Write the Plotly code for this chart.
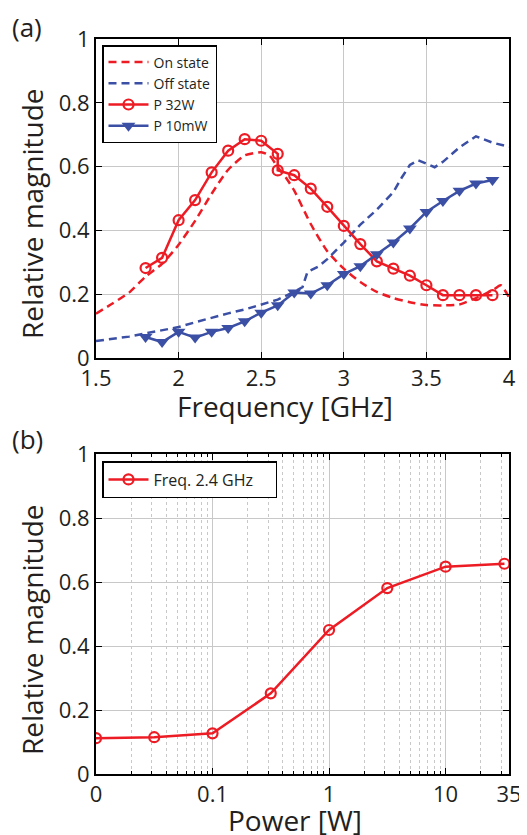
import plotly.graph_objects as go

# ---------------- Panel (a) data ----------------
on_freq = [1.5, 1.6, 1.7, 1.8, 1.9, 2.0, 2.1, 2.2, 2.3, 2.4, 2.5, 2.55, 2.6, 2.65, 2.7,
           2.8, 2.9, 3.0, 3.1, 3.2, 3.3, 3.4, 3.5, 3.6, 3.7, 3.8, 3.9, 3.95, 4.0]
on_mag = [0.139, 0.171, 0.205, 0.255, 0.295, 0.355, 0.43, 0.515, 0.59, 0.635, 0.645, 0.635,
          0.598, 0.565, 0.525, 0.42, 0.335, 0.28, 0.238, 0.207, 0.188, 0.175, 0.166, 0.165,
          0.168, 0.188, 0.212, 0.228, 0.19]

off_freq = [1.5, 1.6, 1.7, 1.8, 1.9, 2.0, 2.1, 2.2, 2.3, 2.4, 2.5, 2.6, 2.7, 2.75, 2.78,
            2.85, 2.9, 2.95, 3.0, 3.05, 3.1, 3.2, 3.3, 3.35, 3.4, 3.45, 3.5, 3.55, 3.6,
            3.7, 3.8, 3.9, 4.0]
off_mag = [0.053, 0.059, 0.067, 0.077, 0.087, 0.097, 0.112, 0.127, 0.14, 0.152, 0.167, 0.183,
           0.208, 0.222, 0.27, 0.288, 0.31, 0.335, 0.362, 0.39, 0.418, 0.465, 0.52, 0.565,
           0.605, 0.62, 0.61, 0.598, 0.615, 0.66, 0.695, 0.675, 0.662]

p32_freq = [1.8, 1.9, 2.0, 2.1, 2.2, 2.3, 2.4, 2.5, 2.6, 2.6, 2.7, 2.8, 2.9, 3.0, 3.1, 3.2,
            3.3, 3.4, 3.5, 3.6, 3.7, 3.8, 3.9]
p32_mag = [0.282, 0.314, 0.432, 0.495, 0.582, 0.650, 0.686, 0.681, 0.640, 0.588, 0.573, 0.531,
           0.474, 0.414, 0.357, 0.303, 0.280, 0.258, 0.228, 0.197, 0.197, 0.197, 0.197]

p10_freq = [1.8, 1.9, 2.0, 2.1, 2.2, 2.3, 2.4, 2.5, 2.6, 2.7, 2.8, 2.9, 3.0, 3.1, 3.2, 3.3,
            3.4, 3.5, 3.6, 3.7, 3.8, 3.9]
p10_mag = [0.066, 0.050, 0.082, 0.064, 0.082, 0.094, 0.115, 0.142, 0.165, 0.205, 0.202, 0.228,
           0.263, 0.288, 0.325, 0.362, 0.406, 0.458, 0.492, 0.524, 0.547, 0.558]

# ---------------- Panel (b) data ----------------
# first point is P = 0, drawn at the left edge of the log axis (0.01 W, labelled "0")
power_w = [0.01, 0.0316, 0.1, 0.316, 1, 3.16, 10, 32]
power_mag = [0.112, 0.115, 0.127, 0.252, 0.450, 0.581, 0.648, 0.657]

freq_ticks = [1.5, 2, 2.5, 3, 3.5, 4]
freq_ticktext = ["1.5", "2", "2.5", "3", "3.5", "4"]
power_ticks = [0.01, 0.1, 1, 10, 35]
power_ticktext = ["0", "0.1", "1", "10", "35"]
power_minor = [0.02, 0.03, 0.04, 0.05, 0.06, 0.07, 0.08, 0.09,
               0.2, 0.3, 0.4, 0.5, 0.6, 0.7, 0.8, 0.9,
               2, 3, 4, 5, 6, 7, 8, 9, 20, 30]
mag_ticks = [0, 0.2, 0.4, 0.6, 0.8, 1]
mag_ticktext = ["0", "0.2", "0.4", "0.6", "0.8", "1"]

RED = "#ED1C24"
BLUE = "#3B4FA5"
FONT = "Open Sans"
TXT = "#231F20"

fig = go.Figure()

fig.add_trace(go.Scatter(x=on_freq, y=on_mag, mode="lines", name="On state",
                         line=dict(color=RED, width=2.5, dash="8px,5px", shape="spline", smoothing=0.6),
                         xaxis="x", yaxis="y", legend="legend"))
fig.add_trace(go.Scatter(x=off_freq, y=off_mag, mode="lines", name="Off state",
                         line=dict(color=BLUE, width=2.5, dash="8px,5px"),
                         xaxis="x", yaxis="y", legend="legend"))
fig.add_trace(go.Scatter(x=p32_freq, y=p32_mag, mode="lines+markers", name="P 32W",
                         line=dict(color=RED, width=2.5),
                         marker=dict(symbol="circle-open", size=10, color=RED, line=dict(width=2.2)),
                         xaxis="x", yaxis="y", legend="legend"))
fig.add_trace(go.Scatter(x=p10_freq, y=p10_mag, mode="lines+markers", name="P 10mW",
                         line=dict(color=BLUE, width=2.5),
                         marker=dict(symbol="triangle-down", size=12, color=BLUE),
                         xaxis="x", yaxis="y", legend="legend"))

fig.add_trace(go.Scatter(x=power_w, y=power_mag, mode="lines+markers",
                         name="Freq. 2.4 GHz\u00a0\u00a0\u00a0\u00a0",
                         line=dict(color=RED, width=2.5),
                         marker=dict(symbol="circle-open", size=10, color=RED, line=dict(width=2.2)),
                         xaxis="x2", yaxis="y2", legend="legend2"))

# page body has an 8px margin: the figure is drawn 8px in from the top-left
OFF = 8
W, H = 527 - OFF, 835 - OFF


def px_x(v):
    return (v - OFF) / W


def px_y(v):
    return 1 - (v - OFF) / H


xd = [px_x(96), px_x(509)]
ya = [px_y(358), px_y(39)]
yb = [px_y(774), px_y(454)]

axis_common = dict(showline=True, linecolor="black", linewidth=2, mirror="ticks",
                   ticks="inside", ticklen=6, tickwidth=1.2, tickcolor="black",
                   showgrid=True, gridcolor="#C8C8C8", gridwidth=1, zeroline=False,
                   tickfont=dict(family=FONT, size=22, color=TXT), automargin=False)

TITLE_FONT = dict(family=FONT, size=28, color=TXT)


def title_ann(text, x, y, angle=0):
    return dict(text=text, x=px_x(x), y=px_y(y), xref="paper", yref="paper",
                xanchor="center", yanchor="middle", textangle=angle, showarrow=False,
                font=TITLE_FONT)


fig.update_layout(
    width=W, height=H,
    margin=dict(l=0, r=0, t=0, b=0),
    paper_bgcolor="white", plot_bgcolor="white",
    font=dict(family=FONT, color=TXT),
    showlegend=True,
    xaxis=dict(domain=xd, anchor="y", range=[1.5, 4], tickvals=freq_ticks, ticktext=freq_ticktext,
               **axis_common),
    yaxis=dict(domain=ya, anchor="x", range=[0, 1], tickvals=mag_ticks, ticktext=mag_ticktext,
               **axis_common),
    xaxis2=dict(domain=xd, anchor="y2", type="log", range=[-2, 1.5441],
                tickvals=power_ticks, ticktext=power_ticktext,
                minor=dict(tickmode="array", tickvals=power_minor, ticks="inside", ticklen=3,
                           tickcolor="black", showgrid=True,
                           gridcolor="#C8C8C8", griddash="dot", gridwidth=1),
                **axis_common),
    yaxis2=dict(domain=yb, anchor="x2", range=[0, 1], tickvals=mag_ticks, ticktext=mag_ticktext,
                **axis_common),
    legend=dict(x=px_x(102), y=px_y(45), xanchor="left", yanchor="top",
                bgcolor="white", bordercolor="black", borderwidth=1.5,
                font=dict(family=FONT, size=14, color=TXT), tracegroupgap=0,
                itemwidth=40),
    legend2=dict(x=px_x(102), y=px_y(461), xanchor="left", yanchor="top",
                 bgcolor="white", bordercolor="black", borderwidth=1.5,
                 font=dict(family=FONT, size=16, color=TXT), itemwidth=40),
    annotations=[
        dict(text="(a)", x=px_x(10), y=px_y(7), xref="paper", yref="paper", xanchor="left",
             yanchor="top", showarrow=False, font=dict(family=FONT, size=26, color=TXT)),
        dict(text="(b)", x=px_x(10), y=px_y(419), xref="paper", yref="paper", xanchor="left",
             yanchor="top", showarrow=False, font=dict(family=FONT, size=26, color=TXT)),
        title_ann("Frequency [GHz]", 285, 406),
        title_ann("Relative magnitude", 32, 214, -90),
        title_ann("Power [W]", 295, 820),
        title_ann("Relative magnitude", 32, 630, -90),
    ],
)

fig.write_html("out.html")
